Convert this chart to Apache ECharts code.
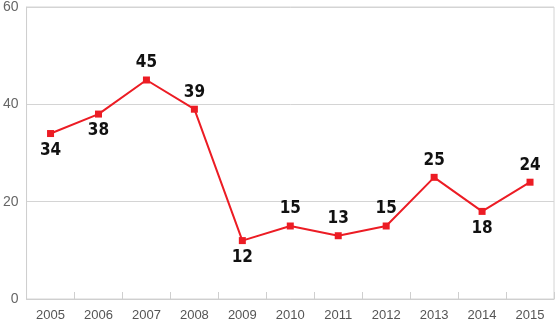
<!DOCTYPE html>
<html><head><meta charset="utf-8">
<script src="https://cdn.jsdelivr.net/npm/echarts@6/dist/echarts.min.js"></script>
<style>html,body{margin:0;padding:0;background:#fff}#c{width:557px;height:330px}</style>
</head><body><div id="c"></div>
<script>
const years = ['2005','2006','2007','2008','2009','2010','2011','2012','2013','2014','2015'];
const values = [34,38,45,39,12,15,13,15,25,18,24];
const labelPos = ['bottom','bottom','top','top','bottom','top','top','top','top','bottom','top'];
const yTicks = [0,20,40,60];

const chart = echarts.init(document.getElementById('c'));
chart.setOption({
  animation:false,
  grid:{left:25,right:3,top:3,bottom:31,show:true,borderColor:'#d4d4d4',borderWidth:1},
  xAxis:{type:'category',data:years,boundaryGap:true,
    axisLine:{lineStyle:{color:'#cfcfcf',width:1}},
    axisTick:{show:true,inside:true,length:7,lineStyle:{color:'#cfcfcf'}},
    axisLabel:{color:'#555',fontSize:13,fontFamily:'Liberation Sans, Arial, sans-serif',margin:10}
  },
  yAxis:{type:'value',min:yTicks[0],max:yTicks[yTicks.length-1],interval:20,
    axisLine:{show:true,lineStyle:{color:'#cfcfcf'}},
    axisTick:{show:false},
    splitLine:{lineStyle:{color:'#d4d4d4',width:1}},
    axisLabel:{color:'#666',fontSize:14,fontFamily:'Liberation Sans, Arial, sans-serif',margin:8}
  },
  series:[{type:'line',
    data:values.map((v,i)=>({value:v,label:{position:labelPos[i]}})),
    symbol:'rect',symbolSize:7,
    lineStyle:{color:'#ec1c24',width:2},
    itemStyle:{color:'#ec1c24'},
    label:{show:true,distance:5,color:'#111',fontSize:17,fontWeight:'bold',
      fontFamily:'DejaVu Sans Condensed, sans-serif'}
  }]
});
</script></body></html>
